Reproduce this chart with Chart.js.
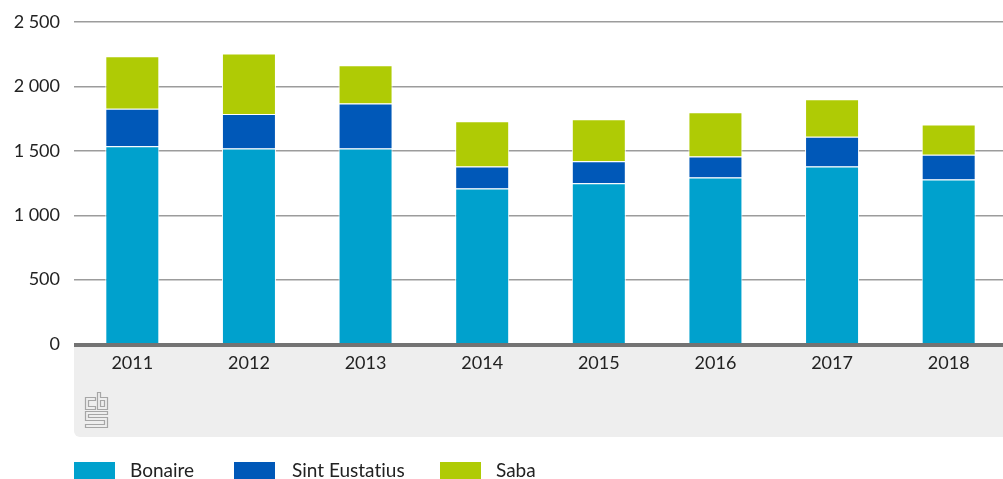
<!DOCTYPE html>
<html><head><meta charset="utf-8">
<script src="https://cdn.jsdelivr.net/npm/chart.js@4"></script>
<style>
html,body{margin:0;padding:0;background:#fff;overflow:hidden}
#wrap{position:relative;width:1003px;height:479px;overflow:hidden}
canvas{display:block}
</style></head><body>
<div id="wrap"><canvas id="c" width="1007" height="479"></canvas></div>
<script>
const categories = ['2011','2012','2013','2014','2015','2016','2017','2018'];
const bonaire = [1535,1518,1518,1208,1248,1292,1378,1278];
const sintEustatius = [292,267,350,170,170,163,232,192];
const saba = [408,470,297,352,327,345,290,235];
const tickValues = [0,500,1000,1500,2000,2500];
const tickLabels = ['0','500','1 000','1 500','2 000','2 500'];
const FONT = 'Lato';

function poly(c,pts){
  c.moveTo(pts[0][0]+.5,pts[0][1]+.5);
  pts.slice(1).forEach(p=>c.lineTo(p[0]+.5,p[1]+.5));
  c.closePath();
}
const panel = {
  id:'panel',
  beforeDraw(ch){
    const c=ch.ctx, a=ch.chartArea;
    c.save();
    c.fillStyle='#eeeeee';
    c.beginPath();
    c.roundRect(a.left,a.bottom,a.right-a.left,437-a.bottom,[0,0,0,6]);
    c.fill();
    c.restore();
  },
  afterDraw(ch){
    const c=ch.ctx,a=ch.chartArea;
    c.save();
    c.fillStyle='#737373';
    c.fillRect(a.left,a.bottom-1,a.right-a.left,4);
    c.strokeStyle='#a6a6a6';c.lineWidth=1.2;
    c.translate(85,392);
    c.beginPath();
    poly(c,[[0,5],[10,5],[10,8],[3,8],[3,14],[10,14],[10,17],[0,17]]);
    poly(c,[[12,0],[15,0],[15,5],[22,5],[22,17],[12,17]]);
    poly(c,[[15,8],[19,8],[19,14],[15,14]]);
    poly(c,[[0,19],[22,19],[22,22],[3,22],[3,25],[22,25],[22,35],[0,35],[0,32],[19,32],[19,28],[0,28]]);
    c.stroke();
    c.restore();
    c.save();
    c.textBaseline='middle';c.font='19px '+FONT;
    c.textRendering='optimizeSpeed';
    ch.data.datasets.forEach((d,i)=>{
      const xb=[74,234,440][i], xt=[130,292,496][i];
      c.fillStyle=d.backgroundColor;c.fillRect(xb,462,41,17);
      c.fillStyle='#222';c.fillText(d.label,xt,471);
    });
    c.restore();
  }
};

new Chart(document.getElementById('c'),{
  type:'bar',
  data:{labels:categories,datasets:[
    {label:'Bonaire',data:bonaire,backgroundColor:'#00a1cd',borderColor:'#ffffff',borderWidth:1},
    {label:'Sint Eustatius',data:sintEustatius,backgroundColor:'#0058b8',borderColor:'#ffffff',borderWidth:1},
    {label:'Saba',data:saba,backgroundColor:'#afcb05',borderColor:'#ffffff',borderWidth:1}
  ]},
  plugins:[panel],
  options:{
    responsive:false,animation:false,
    layout:{padding:{left:0,right:0,top:22,bottom:0}},
    datasets:{bar:{categoryPercentage:1,barPercentage:0.463}},
    plugins:{legend:{display:false},tooltip:{enabled:false}},
    scales:{
      x:{stacked:true,grid:{display:false},border:{display:false},
         afterFit(ax){ax.height=135;},
         ticks:{color:'#222',font:{family:FONT,size:18},padding:0,maxRotation:0}},
      y:{stacked:true,min:0,max:2500,
         afterBuildTicks(ax){ax.ticks=tickValues.map(v=>({value:v}));},
         afterFit(ax){ax.width=74;ax.paddingTop=0;ax.paddingBottom=0;},
         grid:{color:'#9c9c9c',lineWidth:1.4,drawTicks:false},border:{display:false},
         ticks:{color:'#222',font:{family:FONT,size:18},padding:14,
           callback(v){return tickLabels[tickValues.indexOf(v)];}}}
    }
  }
});
</script></body></html>
